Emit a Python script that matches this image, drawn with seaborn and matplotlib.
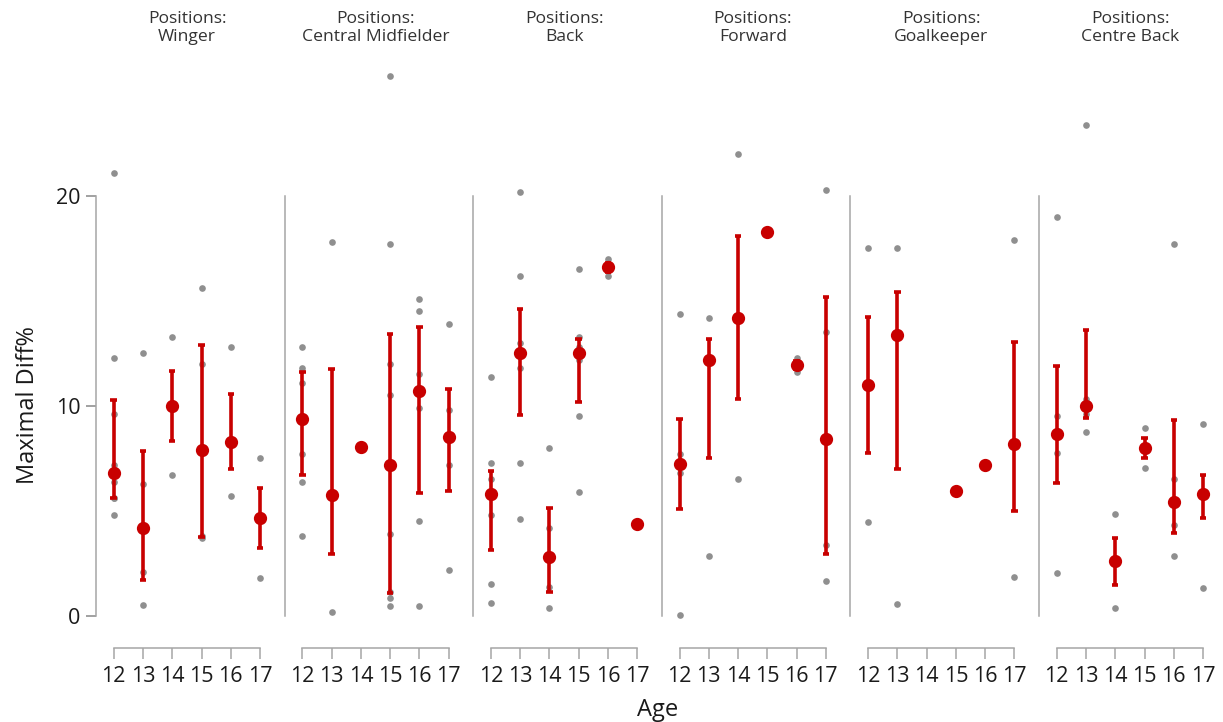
import pandas as pd
import matplotlib
matplotlib.use('Agg')
import matplotlib.pyplot as plt
import seaborn as sns

ages = [12, 13, 14, 15, 16, 17]
positions = ['Winger', 'Central Midfielder', 'Back', 'Forward', 'Goalkeeper', 'Centre Back']

# Maximal Diff% per age
winger = {12: [21.1, 12.3, 9.6, 7.2, 6.4, 5.6, 5.6, 4.8], 13: [12.5, 6.3, 2.1, 0.5],
          14: [13.3, 6.7], 15: [15.6, 12.0, 3.8, 3.7], 16: [12.8, 8.3, 5.7], 17: [7.5, 1.8]}
central_mid = {12: [12.8, 11.8, 11.1, 7.7, 6.4, 3.8], 13: [17.8, 5.77, 0.18], 14: [8.03],
               15: [25.7, 17.7, 12.0, 10.5, 3.9, 1.15, 0.86, 0.48],
               16: [15.1, 14.5, 11.5, 9.9, 4.5, 0.48], 17: [13.9, 9.8, 7.2, 2.2]}
back = {12: [11.4, 7.3, 6.5, 5.8, 4.8, 1.5, 0.6], 13: [20.2, 16.2, 13.0, 12.5, 11.8, 7.3, 4.6],
        14: [8.0, 4.2, 1.4, 0.4], 15: [16.5, 13.3, 12.8, 12.2, 9.5, 5.9], 16: [17.0, 16.2], 17: [4.4]}
forward = {12: [14.4, 7.7, 6.8, 0.06], 13: [14.2, 12.2, 2.87], 14: [22.0, 14.2, 6.5],
           15: [18.3], 16: [12.3, 11.6], 17: [20.3, 13.5, 3.37, 1.67]}
goalkeeper = {12: [17.5, 11.0, 4.48], 13: [17.5, 13.4, 0.57], 15: [5.97], 16: [7.19],
              17: [17.9, 8.17, 1.86]}
centre_back = {12: [19.0, 9.54, 7.75, 2.06], 13: [23.4, 10.33, 9.64, 8.74], 14: [4.85, 0.36],
               15: [8.93, 7.03], 16: [17.7, 6.54, 4.33, 2.84], 17: [9.12, 5.88, 5.74, 1.35]}

all_data = [winger, central_mid, back, forward, goalkeeper, centre_back]

rows = []
for pos, d in zip(positions, all_data):
    for age, vals in d.items():
        for v in vals:
            rows.append((pos, str(age), v))
df = pd.DataFrame(rows, columns=['Positions', 'Age', 'MaxDiff'])
order = [str(a) for a in ages]

sns.set_theme(style='white')
plt.rcParams['font.family'] = ['Open Sans', 'DejaVu Sans']

fig, axes = plt.subplots(1, 6, figsize=(12.23, 7.22), dpi=100, sharey=True)
fig.subplots_adjust(left=0.0785, right=0.9984, bottom=0.1323, top=0.9176, wspace=0.036)

for i, (ax, pos) in enumerate(zip(axes, positions)):
    sub = df[df['Positions'] == pos]
    # raw values in grey, median + interquartile range in red
    sns.stripplot(data=sub, x='Age', y='MaxDiff', order=order, jitter=False,
                  color='#8f8f8f', size=4.8, ax=ax, zorder=1)
    sns.pointplot(data=sub, x='Age', y='MaxDiff', order=order, estimator='median',
                  errorbar=('pi', 50), color='#c80000', linestyle='none', markersize=7.5,
                  capsize=0.22, err_kws={'linewidth': 2.6, 'solid_capstyle': 'butt'}, ax=ax)
    ax.set_xlim(-0.605, 5.615)
    ax.set_ylim(-0.5, 26.5)
    ax.set_xlabel('')
    ax.set_ylabel('')
    ax.set_title('Positions:\n' + pos, fontsize=12.6, pad=13, color='#333333')
    for s in ['top', 'right']:
        ax.spines[s].set_visible(False)
    ax.spines['bottom'].set_position(('outward', 15.5))
    ax.spines['bottom'].set_bounds(0, 5)
    ax.spines['left'].set_bounds(0, 20)
    for s in ['bottom', 'left']:
        ax.spines[s].set_color('#a6a6a6')
        ax.spines[s].set_linewidth(1.1)
    ax.tick_params(axis='x', bottom=True, length=8, width=1.1, color='#a6a6a6',
                   labelsize=15.5, labelcolor='#1a1a1a', pad=5)
    if i == 0:
        ax.set_yticks([0, 10, 20])
        ax.tick_params(axis='y', left=True, length=7, width=1.1, color='#888888',
                       labelsize=15.5, labelcolor='#1a1a1a', pad=4)
    else:
        ax.tick_params(axis='y', left=False, labelleft=False)

axes[0].set_ylabel('Maximal Diff%', fontsize=17, color='#1a1a1a')
axes[0].yaxis.set_label_coords(-0.31, 0.39)
fig.text(0.538, 0.017, 'Age', ha='center', va='center', fontsize=17, color='#1a1a1a')

plt.savefig('out.png', dpi=100)
